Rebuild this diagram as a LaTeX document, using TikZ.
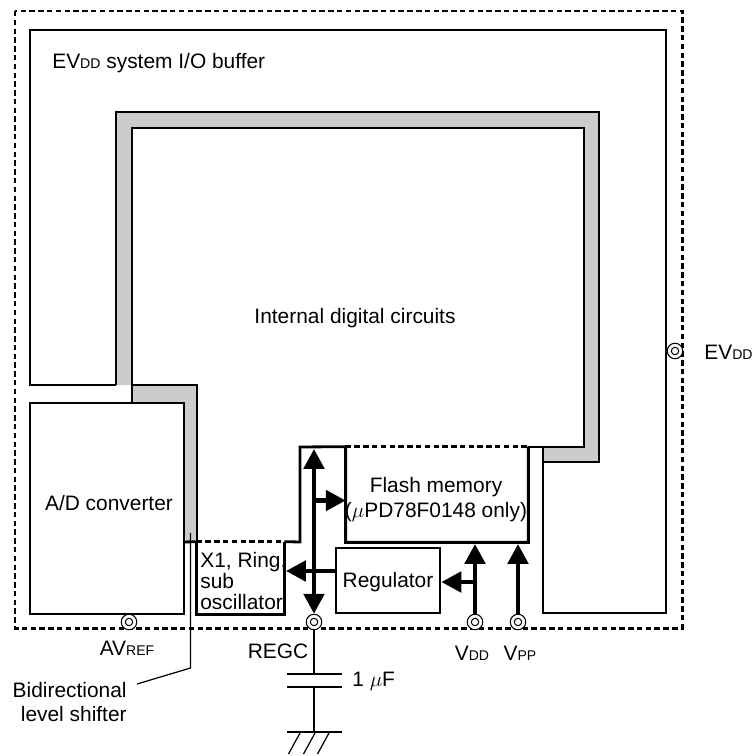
\documentclass[tikz,border=0pt]{standalone}
\usepackage{fontspec}
\setmainfont{Liberation Sans}
\usetikzlibrary{arrows.meta}
\newcommand{\lowsub}[1]{{\fontsize{8pt}{9pt}\selectfont #1}}
\begin{document}
\begin{tikzpicture}[
			x=0.2mm, y=-0.2mm,
			every node/.style={font=\fontsize{11.9pt}{14.2pt}\selectfont},
			wire/.style={line width=1.6pt, line join=miter},
			dashwire/.style={line width=1.7pt, dash pattern=on 3.1pt off 1.9pt},
			ring/.style={fill=black!20, draw=none},
			block/.style={draw, line width=1.6pt, inner sep=0pt},
			textbox/.style={inner sep=0pt, align=center},
			bus/.style={line width=2.5pt, {Triangle[length=11.3pt,width=11.5pt]}-{Triangle[length=11.3pt,width=11.5pt]}},
			feed/.style={line width=2.5pt, -{Triangle[length=11.3pt,width=11.5pt]}},
			thinline/.style={line width=0.7pt},
			pinmark/.style={circle, draw, fill=white, line width=0.6pt, minimum size=15.5*0.2mm, inner sep=0pt,
				path picture={\draw[line width=0.6pt] (path picture bounding box.center) circle (0.74mm);}}
			]
			\useasboundingbox (0,0) rectangle (752,756);
			
			% chip outline
			\coordinate (chipNW) at (15,11);
			\coordinate (chipSE) at (682,628);
			\draw[dashwire] (chipNW) rectangle (chipSE);
			
			% grey ring of the digital part
			\fill[ring] (116,385) -- (116,112) -- (599,112) -- (599,462) -- (543,462) -- (543,447)
			-- (584,447) -- (584,128) -- (132,128) -- (132,385) -- cycle;
			\fill[ring] (132,385) -- (197,385) -- (197,542) -- (184,542) -- (184,403) -- (132,403) -- cycle;
			
			% I/O buffer
			\draw[wire] (116,385) -- (30,385) -- (30,30) -- (666,30) -- (666,613) -- (543,613) -- (543,447);
			
			% ring edges and the digital part
			\draw[wire] (116,385) -- (116,112) -- (599,112) -- (599,462) -- (543,462);
			\draw[wire] (132,403) -- (132,128) -- (584,128) -- (584,447) -- (528,447);
			\draw[wire] (132,385) -- (197,385) -- (197,542);
			
			% blocks
			\node[block, minimum width=154*0.2mm, minimum height=211*0.2mm] (adc) at (107,508.5) {};
			\node[inner sep=0pt] (adctext) at (109,503) {A/D converter};
			\node[block, minimum width=104*0.2mm, minimum height=65*0.2mm] (regulator) at (388,580.5) {};
			\node[inner sep=0pt] (regtext) at (388,582) {Regulator};
			\node[textbox, minimum width=182*0.2mm, minimum height=95*0.2mm] (flash) at (437,494.5) {};
			\node[textbox, font=\fontsize{11.9pt}{14.4pt}\selectfont] (flashtext) at (436,499.5) {Flash memory\\($\mu$PD78F0148 only)};
			\node[textbox, minimum width=87*0.2mm, minimum height=72*0.2mm] (osc) at (240.5,578) {};
			\node[textbox, align=left, anchor=west, font=\fontsize{11.9pt}{11.9pt}\selectfont] (osctext) at (200,581) {X1, Ring,\\sub\\oscillator};
			
			\draw[wire] (flash.north east) -- (flash.south east) -- (flash.south west) -- (flash.north west) -- (300,447) -- (300,542) -- (osc.north east);
			\draw[dashwire] (flash.north west) -- (flash.north east);
			\draw[dashwire] (osc.north west) -- (osc.north east);
			\draw[wire] (osc.north west) -- (osc.south west) -- (osc.south east) -- (osc.north east);
			\draw[wire] (184,542) -- (osc.north west);
			
			% pins
			\node[pinmark] (avref) at (129,622) {};
			\node[pinmark] (regc) at (314,622) {};
			\node[pinmark] (vdd) at (475,622) {};
			\node[pinmark] (vpp) at (518,622) {};
			\node[pinmark] (evdd) at (675,351) {};
			
			% power arrows
			\coordinate (bustop) at (314,449);
			\coordinate (busflash) at (314,500.5);
			\coordinate (busosc) at (286,571);
			\coordinate (vddtop) at (475,544);
			\coordinate (vddreg) at (475,582);
			\coordinate (vpptop) at (518,544);
			\draw[bus] (bustop) -- (regc.north);
			\draw[feed] (busflash) -- (flash.west |- busflash);
			\draw[feed] (regulator.west |- busosc) -- (busosc);
			\draw[feed] (vdd.north) -- (vddtop);
			\draw[feed] (vddreg) -- (regulator.east |- vddreg);
			\draw[feed] (vpp.north) -- (vpptop);
			
			% capacitor and ground
			\coordinate (capA) at (314,674);
			\coordinate (capB) at (314,687);
			\coordinate (gnd) at (314,732);
			\draw[thinline] (regc.south) -- (capA);
			\draw[thinline] (capB) -- (gnd);
			\draw[wire] (287,674) -- (342,674);
			\draw[wire] (287,687) -- (342,687);
			\draw[wire] (287,732) -- (342,732);
			\foreach \hx in {300,315,329}
			\draw[thinline] (\hx,733) -- ({\hx-11.5},754);
			
			% leader of the level shifter
			\node[textbox, align=right, anchor=east] (shifter) at (127,702) {Bidirectional\\level shifter};
			\coordinate (leadtop) at (190.5,533);
			\coordinate (leadmid) at (190.5,668);
			\coordinate (leadend) at (137,684);
			\draw[thinline] (leadtop) -- (leadmid) -- (leadend);
			
			% labels
			\node[anchor=west, inner sep=0pt] (bufferlabel) at (52,63) {EV\lowsub{DD} system I/O buffer};
			\node[inner sep=0pt] (digitallabel) at (355,318) {Internal digital circuits};
			\node[inner sep=0pt] (avreflabel) at (127,648) {AV\lowsub{REF}};
			\node[inner sep=0pt] (regclabel) at (278,651) {REGC};
			\node[inner sep=0pt] (vddlabel) at (472,653) {V\lowsub{DD}};
			\node[inner sep=0pt] (vpplabel) at (520,653) {V\lowsub{PP}};
			\node[anchor=west, inner sep=0pt] (evddlabel) at (704,352) {EV\lowsub{DD}};
			\node[anchor=west, inner sep=0pt] (caplabel) at (352,681) {1 $\mu$F};
			
		\end{tikzpicture}
\end{document}
